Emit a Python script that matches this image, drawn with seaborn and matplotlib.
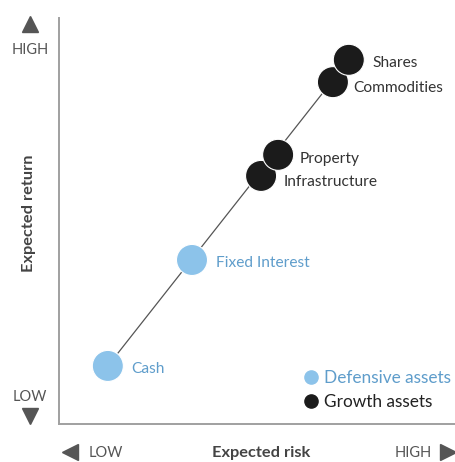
import pandas as pd
import matplotlib.pyplot as plt
import seaborn as sns

# asset classes (risk / return on a 0-100 scale)
assets = ['Cash', 'Fixed Interest', 'Infrastructure', 'Property', 'Commodities', 'Shares']
risk = [12.3, 33.5, 50.9, 55.2, 69.0, 73.0]
ret = [14.3, 40.4, 61.1, 66.3, 84.2, 89.7]
group = ['Defensive assets', 'Defensive assets', 'Growth assets', 'Growth assets',
         'Growth assets', 'Growth assets']

BLUE = '#8cc3ea'
BLUE_TXT = '#5f9dcb'
BLACK = '#1b1b1b'
GREY = '#555555'

sns.set_style('white')
plt.rcParams['font.family'] = ['Lato', 'DejaVu Sans']

df = pd.DataFrame({'asset': assets, 'risk': risk, 'ret': ret, 'group': group})

fig = plt.figure(figsize=(4.56, 4.62), dpi=100)
ax = fig.add_axes([59 / 456, 38 / 462, 397 / 456, 406 / 462])

# trend line behind the dots
ax.plot([risk[0], risk[-1]], [ret[0], ret[-1]], color='#555555', lw=0.9, zorder=1)

sns.scatterplot(data=df, x='risk', y='ret', hue='group',
                palette={'Defensive assets': BLUE, 'Growth assets': BLACK},
                s=500, edgecolor='white', linewidth=0.8, legend=False, ax=ax, zorder=3)

# labels next to each dot
offsets = {'Cash': (5.8, -0.7), 'Fixed Interest': (6.0, -0.7), 'Infrastructure': (5.8, -1.6),
           'Property': (5.5, -1.0), 'Commodities': (5.0, -1.4), 'Shares': (6.0, -0.7)}
for a, x, y, g in zip(assets, risk, ret, group):
    dx, dy = offsets[a]
    c = BLUE_TXT if g == 'Defensive assets' else '#333333'
    ax.text(x + dx, y + dy, a, color=c, fontsize=11.2, va='center', ha='left', zorder=4)

ax.set_xlim(0, 100)
ax.set_ylim(0, 100)
ax.set_xticks([])
ax.set_yticks([])
ax.set_xlabel('')
ax.set_ylabel('')
for side in ['top', 'right']:
    ax.spines[side].set_visible(False)
for side in ['left', 'bottom']:
    ax.spines[side].set_color('#a0a0a0')
    ax.spines[side].set_linewidth(1.4)

# axis titles
ax.text(-0.075, 0.52, 'Expected return', transform=ax.transAxes, rotation=90,
        ha='center', va='center', fontsize=11.8, fontweight='bold', color='#444444')
ax.text(0.508, -0.072, 'Expected risk', transform=ax.transAxes,
        ha='center', va='center', fontsize=11.8, fontweight='bold', color='#444444')

# HIGH / LOW markers
ax.text(-0.073, 0.921, 'HIGH', transform=ax.transAxes, ha='center', va='center',
        fontsize=10.5, color=GREY)
ax.text(-0.073, 0.066, 'LOW', transform=ax.transAxes, ha='center', va='center',
        fontsize=10.5, color=GREY)
ax.text(0.118, -0.072, 'LOW', transform=ax.transAxes, ha='center', va='center',
        fontsize=10.5, color=GREY)
ax.text(0.892, -0.072, 'HIGH', transform=ax.transAxes, ha='center', va='center',
        fontsize=10.5, color=GREY)
ax.plot([-0.073], [0.985], marker='^', ms=12, color=GREY, transform=ax.transAxes, clip_on=False)
ax.plot([-0.073], [0.020], marker='v', ms=12, color=GREY, transform=ax.transAxes, clip_on=False)
ax.plot([0.028], [-0.069], marker='<', ms=12, color=GREY, transform=ax.transAxes, clip_on=False)
ax.plot([0.980], [-0.069], marker='>', ms=12, color=GREY, transform=ax.transAxes, clip_on=False)

# legend
ax.plot([0.635], [0.116], marker='o', ms=9.5, color=BLUE, transform=ax.transAxes, clip_on=False)
ax.text(0.668, 0.113, 'Defensive assets', transform=ax.transAxes, va='center',
        fontsize=12.4, color=BLUE_TXT)
ax.plot([0.635], [0.057], marker='o', ms=9.5, color=BLACK, transform=ax.transAxes, clip_on=False)
ax.text(0.668, 0.054, 'Growth assets', transform=ax.transAxes, va='center',
        fontsize=12.4, color='#222222')

fig.savefig('out.png', dpi=100)
